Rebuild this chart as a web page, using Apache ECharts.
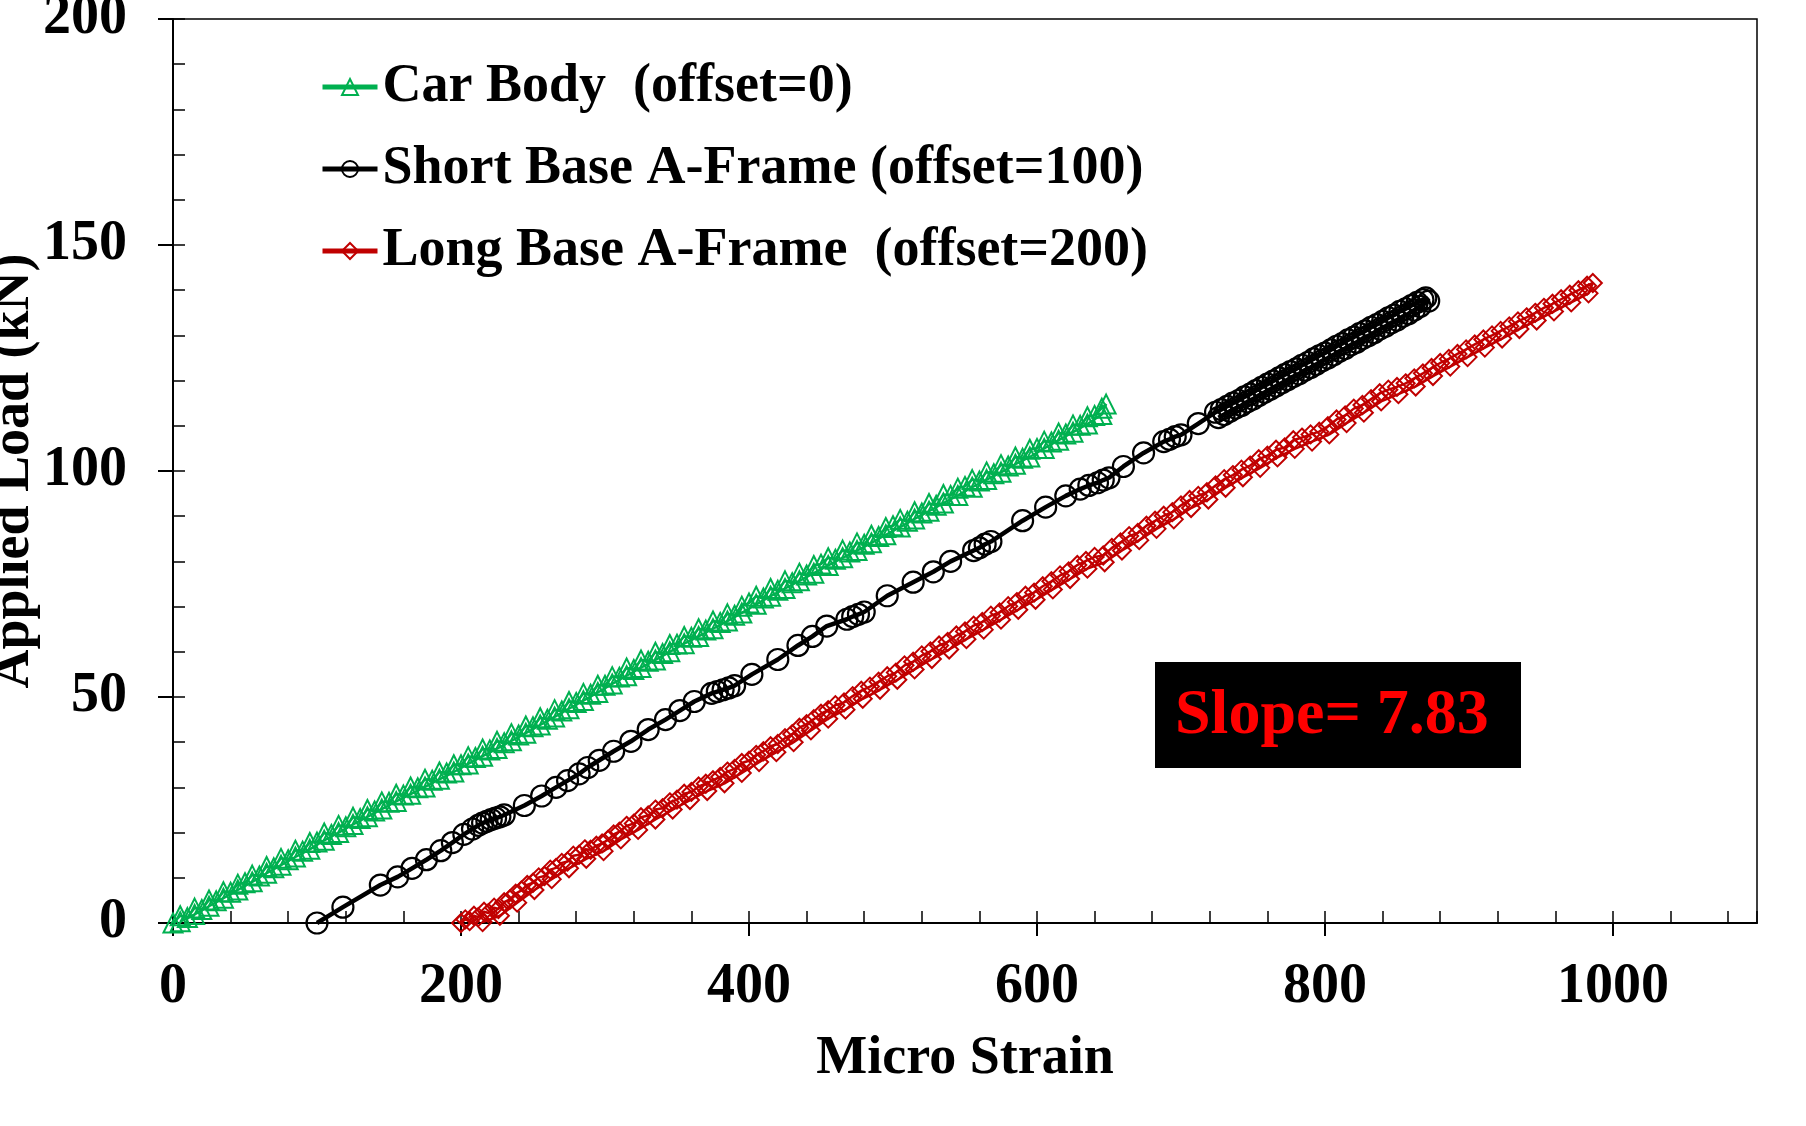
<!DOCTYPE html>
<html>
<head>
<meta charset="utf-8">
<script src="https://cdn.jsdelivr.net/npm/echarts@6/dist/echarts.min.js"></script>
<style>
  html, body { margin: 0; padding: 0; background: #fff; }
  #chart { width: 1806px; height: 1126px; }
</style>
</head>
<body>
<div id="chart"></div>
<script>
// Load vs strain for three frames ([micro strain, kN]).
// Each test loads up and unloads again, so every frame has a loading and a return path.
const carBody = [
  [0,0],[5,1.6],[10,1.2],[15,3.3],[20,3.0],[25,5.1],[30,4.9],[35,6.9],[40,6.8],[45,8.6],
  [50,8.9],[55,10.6],[60,10.4],[65,12.5],[70,12.2],[75,14.3],[80,14.0],[85,16.1],[90,15.9],[95,17.8],
  [100,17.9],[105,19.9],[110,19.6],[115,21.6],[120,21.3],[125,23.4],[130,23.1],[135,25.1],[140,24.8],[145,26.8],
  [150,26.7],[155,28.5],[160,28.3],[165,30.1],[170,29.9],[175,31.8],[180,31.6],[185,33.4],[190,33.2],[195,35.0],
  [200,35.0],[205,36.8],[210,36.6],[215,38.5],[220,38.3],[225,40.2],[230,39.9],[235,41.9],[240,41.6],[245,43.6],
  [250,43.4],[255,45.4],[260,45.1],[265,47.2],[270,46.9],[275,49.0],[280,48.8],[285,50.8],[290,50.6],[295,52.6],
  [300,52.6],[305,54.5],[310,54.4],[315,56.4],[320,56.1],[325,58.2],[330,57.9],[335,59.9],[340,59.6],[345,61.6],
  [350,61.7],[355,63.4],[360,63.2],[365,65.1],[370,64.8],[375,66.8],[380,66.5],[385,68.4],[390,68.1],[395,70.1],
  [400,70.8],[405,72.3],[410,71.9],[415,74.0],[420,73.6],[425,75.7],[430,75.3],[435,77.4],[440,77.0],[445,79.1],
  [450,79.4],[455,80.8],[460,80.5],[465,82.5],[470,82.1],[475,84.1],[480,83.8],[485,85.8],[490,85.5],[495,87.5],
  [500,87.9],[505,89.3],[510,88.9],[515,91.0],[520,90.7],[525,92.8],[530,92.4],[535,94.8],[540,94.6],[545,96.2],
  [550,96.6],[555,98.1],[560,97.8],[565,99.8],[570,99.4],[575,101.4],[580,101.1],[585,103.1],[590,102.8],[595,104.8],
  [600,105.0],[605,106.6],[610,106.4],[615,108.4],[620,108.2],[625,110.2],[630,110.1],[635,112.0],[640,112.3],[645,113.9],
  [648,114.8]
];
const carBodyReturn = [
  [645,112.5],[635,110.4],[625,108.6],[615,106.8],[605,105],[595,103.1],[585,101.5],[575,99.7],[565,98.1],[555,96.4],
  [545,94.6],[535,92.9],[525,91.1],[515,89.4],[505,87.6],[495,85.9],[485,84.1],[475,82.4],[465,80.8],[455,79.1],
  [445,77.4],[435,75.7],[425,74],[415,72.3],[405,70.5],[395,68.6],[385,66.8],[375,65.1],[365,63.4],[355,61.8],
  [345,60],[335,58.2],[325,56.5],[315,54.7],[305,52.9],[295,51],[285,49.2],[275,47.4],[265,45.6],[255,43.8],
  [245,42],[235,40.3],[225,38.6],[215,36.9],[205,35.2],[195,33.4],[185,31.8],[175,30.1],[165,28.5],[155,26.9],
  [145,25.2],[135,23.5],[125,21.8],[115,20],[105,18.3],[95,16.3],[85,14.6],[75,12.8],[65,11],[55,9.1],
  [45,7.3],[35,5.5],[25,3.7],[15,1.9],[5,0.3]
];

const shortBase = [
  [100,0],[118,3.5],[144,8.4],[156,10.2],[166,12.1],[176,14],[186,16],[194,17.8],[202,19.6],[208,20.8],
  [212,21.6],[215,22.1],[218,22.5],[221,22.9],[224,23.2],[227,23.5],[230,23.9],[244,26],[256,28.1],[266,30],
  [274,31.5],[282,33],[288,34.4],[296,36],[306,38],[318,40.2],[330,42.8],[342,45],[352,47],[362,49],
  [374,50.8],[378,51.2],[382,51.6],[386,52],[390,52.5],[402,55],[420,58.3],[434,61.4],[444,63.4],[454,65.7],
  [468,67.2],[472,67.8],[476,68.3],[480,68.8],[496,72.4],[514,75.4],[528,77.7],[540,80],[556,82.4],[560,83],
  [564,83.8],[568,84.4],[590,89],[606,92],[620,94.5],[630,96],[636,96.8],[642,97.4],[646,98],[650,98.5],
  [660,101],[674,104],[688,106.5],[692,107],[696,107.6],[700,108],[712,110.5],[724,113],[728,113.6],[732,114.3],
  [736,115],[740,115.6],[744,116.4],[748,117],[752,117.8],[756,118.5],[760,119.2],[764,119.9],[768,120.6],[772,121.3],
  [776,122],[780,122.6],[784,123.4],[788,124],[792,124.8],[796,125.5],[800,126.1],[804,126.8],[808,127.6],[812,128.2],
  [816,129],[820,129.6],[824,130.4],[828,131],[832,131.8],[836,132.4],[840,133.1],[844,133.9],[848,134.5],[852,135.3],
  [856,135.9],[860,136.6],[864,137.3],[868,137.9],[870,138.3]
];
const shortBaseReturn = [
  [872,137.6],[866,136.4],[862,135.6],[858,134.8],[854,134.2],[850,133.4],[846,132.8],[842,132],[838,131.4],[834,130.6],
  [830,129.9],[826,129.3],[822,128.5],[818,127.9],[814,127.1],[810,126.5],[806,125.7],[802,125],[798,124.4],[794,123.6],
  [790,122.9],[786,122.3],[782,121.5],[778,120.9],[774,120.2],[770,119.5],[766,118.8],[762,118.1],[758,117.4],[754,116.7],
  [750,115.9],[746,115.3],[742,114.5],[738,113.9],[734,113.2],[730,112.5],[726,111.8]
];

const longBase = [
  [200,0],[203,0.8],[206,0.4],[209,1.6],[212,1.3],[216,2.5],[219,2.2],[223,3.4],[226,3.1],[230,4.6],
  [234,5.2],[238,6.5],[242,7.2],[246,8.4],[250,8.9],[254,10.1],[258,10.4],[262,11.8],[266,12.2],[270,13.3],
  [274,13.6],[278,14.9],[282,15.1],[286,16.3],[290,16.2],[294,17.1],[298,17.6],[302,18.4],[306,19.6],[310,20.2],
  [315,21.5],[320,22],[325,23.4],[330,23.8],[335,25.1],[340,25.4],[345,26.7],[350,27.3],[355,28.6],[360,29],
  [365,30.2],[370,30.8],[375,31.6],[380,32.3],[385,33.5],[390,34.1],[395,35.4],[400,35.9],[405,37.2],[410,38],
  [415,39.1],[420,39.6],[425,40.9],[430,41.8],[435,43.2],[440,44],[445,45.1],[450,46.3],[455,47.1],[460,48.2],
  [466,48.8],[472,50.2],[478,51.4],[484,52.3],[490,53.4],[496,54.6],[502,55.4],[508,57],[514,57.8],[520,59.2],
  [526,60.1],[532,61.4],[538,62.2],[544,63.6],[550,64.5],[556,65.8],[562,66.6],[568,68],[574,68.7],[580,70.1],
  [586,71],[592,72.4],[598,73.1],[604,74.5],[610,75.6],[616,76.9],[622,77.8],[628,79.2],[634,80.1],[640,81],
  [646,81.3],[652,83],[658,84.2],[664,85.6],[670,86.3],[676,87.9],[682,89],[688,90.1],[694,90.9],[700,92.4],
  [706,93.6],[712,94.5],[718,95.3],[724,96.8],[730,98.2],[736,99.1],[742,100.3],[748,101.2],[754,102.6],[760,103.4],
  [766,104.7],[772,105.2],[778,106.8],[784,107.4],[790,108.1],[796,108.7],[802,109.9],[808,111.4],[814,112.3],[820,113.8],
  [826,114.6],[832,115.9],[838,117.2],[844,118],[850,118.6],[856,119.4],[862,120.5],[868,121.6],[874,122.8],[880,123.9],
  [886,124.8],[892,125.9],[898,126.9],[904,128],[910,129.1],[916,130],[922,131],[928,132],[934,133.1],[940,134],
  [946,135],[952,136.1],[958,137],[964,138],[970,139],[976,140],[982,141],[986,141.6]
];
const longBaseReturn = [
  [983,139.3],[971,137.3],[959,135.3],[947,133.3],[935,131.4],[923,129.3],[911,127.3],[899,125.2],[887,123.1],[875,121],
  [863,118.7],[851,117],[839,115.4],[827,112.9],[815,110.6],[803,108.1],[791,106.5],[779,104.9],[767,103],[755,100.7],
  [743,98.6],[731,96.3],[719,93.7],[707,91.8],[695,89.3],[683,87.2],[671,84.7],[659,82.4],[647,79.8],[635,78.4],
  [623,76.1],[611,73.8],[599,71.5],[587,69.3],[575,67.1],[563,64.9],[551,62.8],[539,60.5],[527,58.4],[515,56.1],
  [503,53.8],[491,51.6],[479,49.6],[467,47.2],[455,45.2],[443,42.6],[431,40],[419,37.8],[407,35.6],[395,33.2],
  [383,30.9],[371,29.2],[359,27.2],[347,25.1],[335,22.9],[323,20.6],[311,18.5],[299,15.9],[287,14.2],[275,12.1],
  [263,9.7],[251,7.3],[239,4.5],[227,1.6],[215,0.2]
];

const seriesNames = [
  'Car Body  (offset=0)',
  'Short Base A-Frame (offset=100)',
  'Long Base A-Frame  (offset=200)'
];
const xMajorTicks = [0, 200, 400, 600, 800, 1000];
const yMajorTicks = [0, 50, 100, 150, 200];
const slopeText = 'Slope= 7.83';

const FONT = '"Liberation Serif", "Times New Roman", serif';
const GREEN = '#00B050';
const RED = '#C00000';

const boldText = (size) => ({ fontFamily: FONT, fontWeight: 'bold', fontSize: size, color: '#000' });
const plain = (v) => String(v);

const chart = echarts.init(document.getElementById('chart'), null, { renderer: 'canvas' });

chart.setOption({
  animation: false,
  backgroundColor: '#fff',
  grid: {
    left: 173, top: 19, right: 49, bottom: 203,
    containLabel: false, outerBoundsMode: 'none',
    show: true, borderColor: '#000', borderWidth: 1.5
  },
  legend: {
    orient: 'vertical',
    left: 320, top: 60, padding: 0,
    itemWidth: 55, itemHeight: 20, itemGap: 28,
    lineStyle: { width: 5 },
    textStyle: Object.assign(boldText(54), { lineHeight: 54 }),
    data: seriesNames
  },
  xAxis: [
    {
      type: 'value', min: 0, max: 1100, interval: 200, position: 'bottom',
      axisLine: { lineStyle: { color: '#000', width: 2 } },
      axisTick: { inside: false, length: 13, customValues: xMajorTicks, lineStyle: { color: '#000', width: 2 } },
      axisLabel: Object.assign(boldText(56), { margin: 37, customValues: xMajorTicks, formatter: plain }),
      splitLine: { show: false },
      name: 'Micro Strain', nameLocation: 'middle', nameGap: 109, nameMoveOverlap: false,
      nameTextStyle: boldText(54)
    },
    {
      // inward minor ticks
      type: 'value', min: 0, max: 1100, interval: 40, position: 'bottom',
      axisLine: { show: false },
      axisTick: { inside: true, length: 12, lineStyle: { color: '#000', width: 1.5 } },
      axisLabel: { show: false },
      splitLine: { show: false }
    }
  ],
  yAxis: [
    {
      type: 'value', min: 0, max: 200, interval: 50, position: 'left',
      axisLine: { show: true, lineStyle: { color: '#000', width: 2 } },
      axisTick: { show: true, inside: false, length: 15, customValues: yMajorTicks, lineStyle: { color: '#000', width: 2 } },
      axisLabel: Object.assign(boldText(56), { margin: 46, customValues: yMajorTicks, formatter: plain }),
      splitLine: { show: false },
      name: 'Applied Load (kN)', nameLocation: 'middle', nameGap: 132, nameMoveOverlap: false,
      nameTextStyle: boldText(54)
    },
    {
      type: 'value', min: 0, max: 200, interval: 10, position: 'left',
      axisLine: { show: false },
      axisTick: { show: true, inside: true, length: 12, lineStyle: { color: '#000', width: 1.5 } },
      axisLabel: { show: false },
      splitLine: { show: false }
    }
  ],
  series: [
    {
      name: seriesNames[0], type: 'line', data: carBody.concat(carBodyReturn),
      symbol: 'triangle', symbolSize: 19, showAllSymbol: true,
      lineStyle: { color: GREEN, width: 2.5 },
      itemStyle: { color: 'transparent', borderColor: GREEN, borderWidth: 2 }
    },
    {
      name: seriesNames[1], type: 'line', data: shortBase.concat(shortBaseReturn),
      symbol: 'circle', symbolSize: 21, showAllSymbol: true,
      lineStyle: { color: '#000', width: 4.5 },
      itemStyle: { color: 'transparent', borderColor: '#000', borderWidth: 2.2 }
    },
    {
      name: seriesNames[2], type: 'line', data: longBase.concat(longBaseReturn),
      symbol: 'diamond', symbolSize: 18, showAllSymbol: true,
      lineStyle: { color: RED, width: 2.5 },
      itemStyle: { color: 'transparent', borderColor: RED, borderWidth: 2 }
    }
  ],
  graphic: [
    { type: 'rect', left: 1155, top: 662, shape: { width: 366, height: 106 }, style: { fill: '#000' }, z: 10 },
    {
      type: 'text', x: 1175, y: 716, z: 11,
      style: { text: slopeText, fill: '#ff0000', font: 'bold 64px ' + FONT, verticalAlign: 'middle', align: 'left' }
    }
  ]
});
</script>
</body>
</html>
